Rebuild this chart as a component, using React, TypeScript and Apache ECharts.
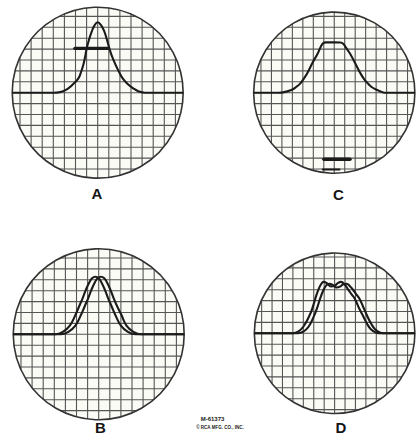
import React, { useEffect, useRef } from "react";
import * as echarts from "echarts";

// ---- data (x, y in graticule divisions, origin at screen centre) ----
const panelLabels = ["A", "C", "B", "D"];
const gridTicks = [-7, -6, -5, -4, -3, -2, -1, 0, 1, 2, 3, 4, 5, 6, 7];

const curveA = [
  [-7.7, 0], [-4.0, 0], [-3.4, 0.05], [-2.65, 0.4], [-2.2, 0.8], [-1.74, 1.32], [-1.5, 1.9],
  [-1.3, 2.54], [-1.15, 3.2], [-0.99, 4.07], [-0.8, 4.8], [-0.54, 5.6], [-0.3, 6.15], [0, 6.46],
  [0.3, 6.2], [0.6, 5.6], [0.85, 4.8], [1.05, 4.07], [1.3, 3.3], [1.62, 2.54], [1.95, 1.85],
  [2.25, 1.32], [2.7, 0.8], [3.2, 0.4], [3.7, 0.12], [4.26, 0], [7.7, 0],
];
const markerA = [[-2.05, 4.07], [0.9, 4.07]];

const curveC = [
  [-7.7, 0], [-5.3, 0], [-4.9, 0.03], [-4.1, 0.25], [-3.6, 0.55], [-3.24, 0.86], [-2.9, 1.3],
  [-2.58, 1.78], [-2.1, 2.7], [-1.58, 3.6], [-1.3, 4.2], [-1.05, 4.55], [-0.8, 4.62], [0, 4.62],
  [0.6, 4.6], [0.85, 4.5], [1.1, 4.15], [1.5, 3.6], [2.0, 2.7], [2.5, 1.78], [2.85, 1.25],
  [3.2, 0.86], [3.6, 0.5], [4.1, 0.25], [4.6, 0.05], [5.0, 0], [7.7, 0],
];
const markerC = [[-0.98, -6.1], [1.5, -6.1]];
const markerC2 = [[-1.1, -7.05], [0.5, -7.05]];

const curveBLeft = [
  [-7.7, 0], [-3.9, 0], [-3.2, 0.25], [-2.6, 0.8], [-2.1, 1.77], [-1.75, 2.6], [-1.45, 3.3],
  [-1.15, 4.1], [-0.85, 4.75], [-0.6, 5.15], [-0.3, 5.28], [0, 5.15], [0.25, 4.75], [0.55, 4.1],
  [0.85, 3.3], [1.15, 2.6], [1.5, 1.77], [2.0, 0.8], [2.6, 0.25], [3.3, 0], [7.7, 0],
];
const curveBRight = [
  [-7.7, 0], [-3.4, 0], [-2.7, 0.25], [-2.1, 0.8], [-1.6, 1.77], [-1.25, 2.6], [-0.95, 3.3],
  [-0.65, 4.1], [-0.35, 4.75], [-0.1, 5.15], [0.2, 5.28], [0.5, 5.15], [0.75, 4.75], [1.05, 4.1],
  [1.35, 3.3], [1.65, 2.6], [2.05, 1.77], [2.5, 0.8], [3.1, 0.25], [3.8, 0], [7.7, 0],
];

const curveDLeft = [
  [-7.7, 0], [-4.0, 0], [-3.5, 0.15], [-3.0, 0.6], [-2.4, 1.65], [-2.1, 2.4], [-1.86, 3.15],
  [-1.6, 3.9], [-1.3, 4.5], [-1.05, 4.72], [-0.75, 4.6], [-0.35, 4.3], [0, 4.35], [0.3, 4.6],
  [0.6, 4.72], [0.95, 4.5], [1.3, 4.0], [1.65, 3.55], [1.95, 3.15], [2.35, 2.3], [2.7, 1.65],
  [3.1, 0.9], [3.5, 0.35], [4.0, 0.05], [4.4, 0], [7.7, 0],
];
const curveDRight = [
  [-7.7, 0], [-3.5, 0], [-3.0, 0.15], [-2.5, 0.6], [-1.95, 1.65], [-1.65, 2.4], [-1.4, 3.15],
  [-1.1, 3.9], [-0.8, 4.4], [-0.5, 4.55], [-0.2, 4.45], [0.2, 4.2], [0.55, 4.3], [0.85, 4.5],
  [1.15, 4.55], [1.45, 4.35], [1.8, 3.95], [2.1, 3.55], [2.4, 3.15], [2.8, 2.3], [3.1, 1.65],
  [3.5, 0.9], [3.9, 0.35], [4.4, 0.05], [4.8, 0], [7.7, 0],
];

const footnote1 = "M-61373";
const footnote2 = "© RCA MFG. CO., INC.";

// ---- layout ----
const CELL_X = 11.1;
const CELL_Y = 10.9;
const SCREEN_R = 7.7; // radius in x-divisions
const CENTERS = [
  { cx: 97.7, cy: 92.7 },
  { cx: 339.3, cy: 92.7 },
  { cx: 98.7, cy: 334.3 },
  { cx: 340, cy: 333.3 },
];
const LABEL_POS = [
  { x: 97, y: 193.5 },
  { x: 338.5, y: 194 },
  { x: 100.5, y: 427.5 },
  { x: 341, y: 427.5 },
];

const TRACE = "#1b1b1b";
const GRAT = "#555555";

export default function App() {
  const ref = useRef<HTMLDivElement>(null);

  useEffect(() => {
    const chart = echarts.init(ref.current!, null, { renderer: "svg" });

    const grids: any[] = [];
    const xAxes: any[] = [];
    const yAxes: any[] = [];
    const series: any[] = [];

    const panelCurves: number[][][][] = [
      [curveA],
      [curveC],
      [curveBLeft, curveBRight],
      [curveDLeft, curveDRight],
    ];
    const panelMarkers: { d: number[][]; w: number }[][] = [
      [{ d: markerA, w: 3.4 }],
      [{ d: markerC, w: 3.6 }, { d: markerC2, w: 2 }],
      [],
      [],
    ];

    CENTERS.forEach((c, i) => {
      grids.push({
        left: c.cx - 8 * CELL_X,
        top: c.cy - 8 * CELL_Y,
        width: 16 * CELL_X,
        height: 16 * CELL_Y,
        containLabel: false,
      });
      xAxes.push({ type: "value", gridIndex: i, min: -8, max: 8, show: false });
      yAxes.push({ type: "value", gridIndex: i, min: -8, max: 8, show: false });

      // screen face
      series.push({
        type: "custom",
        xAxisIndex: i,
        yAxisIndex: i,
        z: 1,
        silent: true,
        clip: false,
        data: [[0, 0]],
        renderItem: (_p: any, api: any) => {
          const o = api.coord([api.value(0), api.value(1)]);
          const r = api.size([SCREEN_R, 0])[0];
          return {
            type: "circle",
            shape: { cx: o[0], cy: o[1], r },
            style: { fill: "#fbfbf6", stroke: "none" },
          };
        },
      });

      // graticule
      series.push({
        type: "custom",
        xAxisIndex: i,
        yAxisIndex: i,
        z: 2,
        silent: true,
        clip: false,
        data: gridTicks.map((t) => [t, t]),
        renderItem: (_p: any, api: any) => {
          const o = api.coord([0, 0]);
          const r = api.size([SCREEN_R, 0])[0];
          const p = api.coord([api.value(0), api.value(1)]);
          const dx = p[0] - o[0];
          const dy = p[1] - o[1];
          const hv = Math.sqrt(Math.max(0, r * r - dx * dx));
          const hh = Math.sqrt(Math.max(0, r * r - dy * dy));
          return {
            type: "group",
            children: [
              {
                type: "line",
                shape: { x1: p[0], y1: o[1] - hv, x2: p[0], y2: o[1] + hv },
                style: { stroke: GRAT, lineWidth: 1.1 },
              },
              {
                type: "line",
                shape: { x1: o[0] - hh, y1: p[1], x2: o[0] + hh, y2: p[1] },
                style: { stroke: GRAT, lineWidth: 1.1 },
              },
            ],
          };
        },
      });

      // rim
      series.push({
        type: "custom",
        xAxisIndex: i,
        yAxisIndex: i,
        z: 3,
        silent: true,
        clip: false,
        data: [[0, 0]],
        renderItem: (_p: any, api: any) => {
          const o = api.coord([api.value(0), api.value(1)]);
          const r = api.size([SCREEN_R, 0])[0];
          return {
            type: "circle",
            shape: { cx: o[0], cy: o[1], r },
            style: { fill: "none", stroke: "#333333", lineWidth: 1.6 },
          };
        },
      });

      panelCurves[i].forEach((d) => {
        series.push({
          type: "line",
          xAxisIndex: i,
          yAxisIndex: i,
          z: 5,
          data: d,
          smooth: 0.45,
          showSymbol: false,
          symbol: "none",
          clip: false,
          lineStyle: { color: TRACE, width: 2.1 },
        });
      });
      panelMarkers[i].forEach((m) => {
        series.push({
          type: "line",
          xAxisIndex: i,
          yAxisIndex: i,
          z: 6,
          data: m.d,
          showSymbol: false,
          symbol: "none",
          clip: false,
          lineStyle: { color: TRACE, width: m.w, cap: "round" },
        });
      });
    });

    const graphics: any[] = panelLabels.map((t, i) => ({
      type: "text",
      z: 10,
      style: {
        text: t,
        x: LABEL_POS[i].x,
        y: LABEL_POS[i].y,
        align: "center",
        verticalAlign: "middle",
        fontSize: 15,
        fontWeight: "bold",
        fontFamily: "Liberation Sans",
        fill: "#151515",
      },
    }));
    graphics.push({
      type: "text",
      z: 10,
      style: {
        text: footnote1,
        x: 212.5,
        y: 419,
        align: "center",
        verticalAlign: "middle",
        fontSize: 6,
        fontWeight: "bold",
        fontFamily: "Liberation Sans",
        fill: "#222",
      },
    });
    graphics.push({
      type: "text",
      z: 10,
      style: {
        text: footnote2,
        x: 220,
        y: 427,
        align: "center",
        verticalAlign: "middle",
        fontSize: 4.5,
        fontWeight: "bold",
        fontFamily: "Liberation Sans",
        fill: "#222",
      },
    });

    chart.setOption({
      animation: false,
      backgroundColor: "#ffffff",
      grid: grids,
      xAxis: xAxes,
      yAxis: yAxes,
      series,
      graphic: graphics,
    });

    return () => chart.dispose();
  }, []);

  return (
    <div
      ref={ref}
      style={{ position: "fixed", left: 0, top: 0, width: 418, height: 441, background: "#fff" }}
    />
  );
}
